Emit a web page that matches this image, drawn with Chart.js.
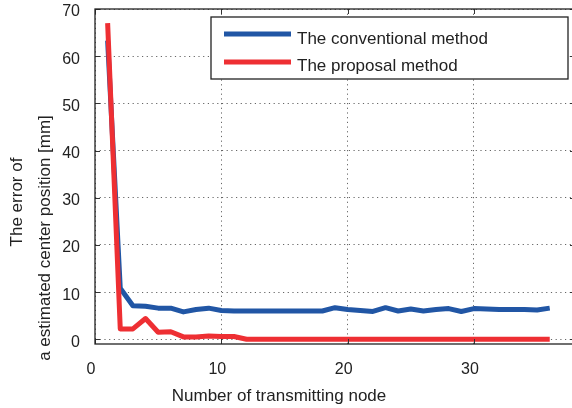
<!DOCTYPE html>
<html>
<head>
<meta charset="utf-8">
<script src="https://cdn.jsdelivr.net/npm/chart.js@4/dist/chart.umd.min.js"></script>
<style>
  html, body { margin: 0; padding: 0; background: #fff; }
  #wrap { width: 572px; height: 408px; overflow: hidden; position: relative; }
  canvas { position: absolute; left: 0; top: 0; }
</style>
</head>
<body>
<div id="wrap"><canvas id="chart" width="580" height="408"></canvas></div>
<script>
// number of transmitting node
const nodes = [1, 2, 3, 4, 5, 6, 7, 8, 9, 10, 11, 12, 13, 14, 15, 16, 17, 18,
  19, 20, 21, 22, 23, 24, 25, 26, 27, 28, 29, 30, 31, 32, 33, 34, 35, 36];

// error [mm]
const conventional = [63.3, 10.8, 7.1, 7.0, 6.6, 6.6, 5.8, 6.3, 6.6, 6.1, 6.0, 6.0,
  6.0, 6.0, 6.0, 6.0, 6.0, 6.0, 6.7, 6.3, 6.1, 5.9, 6.7, 6.0, 6.4, 6.0, 6.3, 6.5,
  5.9, 6.5, 6.4, 6.3, 6.3, 6.3, 6.2, 6.6];
const proposal = [67.0, 2.2, 2.2, 4.4, 1.5, 1.6, 0.5, 0.5, 0.7, 0.6, 0.6, 0.0,
  0.0, 0.0, 0.0, 0.0, 0.0, 0.0, 0.0, 0.0, 0.0, 0.0, 0.0, 0.0, 0.0, 0.0, 0.0, 0.0,
  0.0, 0.0, 0.0, 0.0, 0.0, 0.0, 0.0, 0.0];

const seriesNames = ['The conventional method', 'The proposal method'];
const xTickValues = [0, 10, 20, 30];
const yTickValues = [0, 10, 20, 30, 40, 50, 60, 70];

const xTitle = 'Number of transmitting node';
const yTitle = ['The error of', 'a estimated center position [mm]'];

const BLUE = '#2156a5';
const RED = '#ee2f33';
const FONT = '"Liberation Sans", Arial, Helvetica, sans-serif';

function toPoints(ys) {
  return nodes.map((n, i) => ({ x: n, y: ys[i] }));
}

// box, inward ticks, legend and axis titles
const decor = {
  id: 'decor',
  afterDraw(chart) {
    const ctx = chart.ctx;
    const a = chart.chartArea;
    const xs = chart.scales.x;
    const ys = chart.scales.y;
    ctx.save();

    // inward ticks
    ctx.strokeStyle = '#333';
    ctx.lineWidth = 1;
    ctx.beginPath();
    xTickValues.forEach(v => {
      const px = Math.round(xs.getPixelForValue(v)) + 0.5;
      ctx.moveTo(px, a.bottom); ctx.lineTo(px, a.bottom - 5);
      ctx.moveTo(px, a.top); ctx.lineTo(px, a.top + 5);
    });
    yTickValues.forEach(v => {
      const py = Math.round(ys.getPixelForValue(v)) + 0.5;
      ctx.moveTo(a.left, py); ctx.lineTo(a.left + 5, py);
      ctx.moveTo(a.right, py); ctx.lineTo(a.right - 5, py);
    });
    ctx.stroke();

    // axes box
    ctx.strokeStyle = '#222';
    ctx.lineWidth = 1.3;
    ctx.strokeRect(a.left, a.top, a.right - a.left, a.bottom - a.top);

    // legend
    const lx = 211, ly = 17, lw = 357, lh = 62;
    ctx.fillStyle = '#fff';
    ctx.fillRect(lx, ly, lw, lh);
    ctx.strokeStyle = '#222';
    ctx.lineWidth = 1.3;
    ctx.strokeRect(lx, ly, lw, lh);
    const rows = [{ y: 34, base: 44, color: BLUE }, { y: 62, base: 71, color: RED }];
    ctx.font = '17px ' + FONT;
    ctx.textAlign = 'left';
    ctx.textBaseline = 'alphabetic';
    chart.data.datasets.forEach((ds, i) => {
      const r = rows[i];
      ctx.strokeStyle = ds.borderColor;
      ctx.lineWidth = 5;
      ctx.beginPath();
      ctx.moveTo(224, r.y); ctx.lineTo(291, r.y);
      ctx.stroke();
      ctx.fillStyle = '#222';
      ctx.fillText(ds.label, 297, r.base);
    });

    // axis titles
    ctx.fillStyle = '#222';
    ctx.font = '17px ' + FONT;
    ctx.textAlign = 'center';
    ctx.textBaseline = 'middle';
    ctx.fillText(xTitle, 279, 396);

    ctx.save();
    ctx.translate(17, 202);
    ctx.rotate(-Math.PI / 2);
    ctx.fillText(yTitle[0], 0, 0);
    ctx.restore();
    ctx.save();
    ctx.translate(45, 238);
    ctx.rotate(-Math.PI / 2);
    ctx.fillText(yTitle[1], 0, 0);
    ctx.restore();

    ctx.restore();
  }
};

const ctx = document.getElementById('chart').getContext('2d');
new Chart(ctx, {
  type: 'line',
  data: {
    datasets: [
      {
        label: seriesNames[0],
        data: toPoints(conventional),
        borderColor: BLUE,
        borderWidth: 5,
        pointRadius: 0,
        tension: 0,
        borderJoinStyle: 'round',
        borderCapStyle: 'butt',
        order: 2
      },
      {
        label: seriesNames[1],
        data: toPoints(proposal),
        borderColor: RED,
        borderWidth: 5,
        pointRadius: 0,
        tension: 0,
        borderJoinStyle: 'round',
        borderCapStyle: 'butt',
        order: 1
      }
    ]
  },
  options: {
    responsive: false,
    animation: false,
    layout: { padding: { top: 9, right: 5, left: 0, bottom: 0 } },
    plugins: {
      legend: { display: false },
      tooltip: { enabled: false }
    },
    scales: {
      x: {
        type: 'linear',
        min: 0,
        max: 38,
        afterFit(scale) {
          scale.height = 64;
          scale.paddingLeft = 0;
          scale.paddingRight = 0;
        },
        ticks: {
          stepSize: 10,
          includeBounds: false,
          maxRotation: 0,
          padding: 16,
          labelOffset: -4,
          color: '#222',
          font: { family: FONT, size: 16 }
        },
        grid: { color: '#666', lineWidth: 1, drawTicks: false },
        border: { display: false, dash: [1.2, 3.5] }
      },
      y: {
        type: 'linear',
        min: -1,
        max: 70,
        afterFit(scale) {
          scale.width = 95;
          scale.paddingTop = 0;
          scale.paddingBottom = 0;
        },
        ticks: {
          stepSize: 10,
          includeBounds: false,
          padding: 15,
          labelOffset: 3,
          color: '#222',
          font: { family: FONT, size: 16 }
        },
        grid: { color: '#666', lineWidth: 1, drawTicks: false },
        border: { display: false, dash: [1.2, 3.5] }
      }
    }
  },
  plugins: [decor]
});
</script>
</body>
</html>
